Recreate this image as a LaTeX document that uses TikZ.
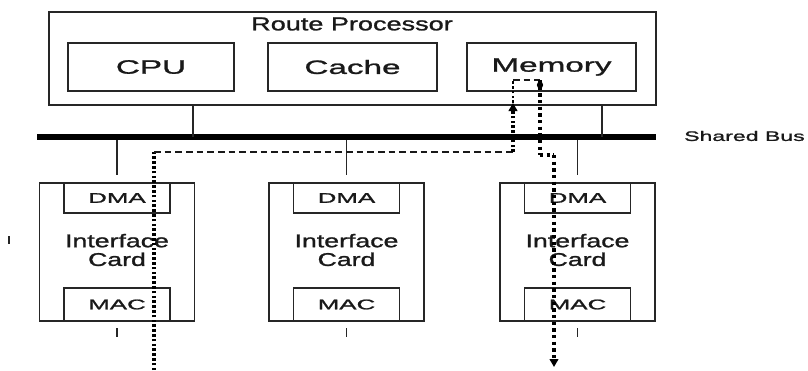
\documentclass[tikz,border=0pt]{standalone}
\usepackage{fontspec}
\setmainfont{Liberation Sans}
\newfontfamily\lblwide[FakeStretch=1.72, FakeBold=1.3]{Liberation Sans}
\newfontfamily\lblmid[FakeStretch=1.45, FakeBold=1.3]{Liberation Sans}
\newfontfamily\lblsmall[FakeStretch=1.85, FakeBold=1.5]{Liberation Sans}
\newfontfamily\lblbus[FakeStretch=1.68, FakeBold=1.3]{Liberation Sans}
\usetikzlibrary{arrows.meta}
\begin{document}
\begin{tikzpicture}[x=0.75pt,y=-0.75pt,
  box/.style={draw=black!85, line width=1.1pt, inner sep=0pt, text=black!90},
  conn/.style={draw=black!85, line width=1.1pt},
  busline/.style={draw=black, line width=3.8pt},
  vdot/.style={draw=black, line width=2.6pt, dash pattern=on 1.9pt off 1.7pt},
  vdotb/.style={draw=black, line width=2.6pt, dash pattern=on 2.4pt off 2.6pt},
  hdash/.style={draw=black!90, line width=2pt, dash pattern=on 5pt off 3pt},
  boxlabel/.style={font=\lblwide\fontsize{14.5}{16}\selectfont},
  titlelabel/.style={font=\lblmid\fontsize{14}{15}\selectfont},
  cardlabel/.style={font=\lblmid\fontsize{13.8}{15}\selectfont, align=center, text=black!90},
  smalllabel/.style={font=\lblsmall\fontsize{10.5}{12}\selectfont},
  buslabel/.style={font=\lblbus\fontsize{10.3}{12}\selectfont},
  tip/.style={-{Triangle[length=6pt,width=6.5pt]}}]
\useasboundingbox (0,0) rectangle (808,371);

% Route processor
\node[box, minimum width=455.25pt, minimum height=69.75pt] (rp) at (352.5,58.5) {};
\node[titlelabel, text=black!90] (rptitle) at (352,24) {Route Processor};
\node[box, boxlabel, minimum width=124.5pt, minimum height=36pt] (cpu) at (151,67) {CPU};
\node[box, boxlabel, minimum width=126.75pt, minimum height=36pt] (cache) at (352.5,67) {Cache};
\node[box, boxlabel, minimum width=126.75pt, minimum height=36pt] (mem) at (551.5,67) {Memory};

% shared bus
\coordinate (busL) at (37,137);
\coordinate (busR) at (656,137);
\draw[busline] (busL) -- (busR);
\node[buslabel, anchor=east, inner sep=0pt, text=black!90] (buslbl) at (805,136) {Shared Bus};

\coordinate (j1) at (193,137);
\coordinate (j2) at (602,137);
\draw[conn] (rp.south -| j1) -- (j1);
\draw[conn] (rp.south -| j2) -- (j2);

% interface cards
\foreach \n/\cx in {1/117, 2/346.5, 3/577.5}{
  \node[box, minimum width=116.25pt, minimum height=103.5pt] (card\n) at (\cx,252) {};
  \node[box, smalllabel, minimum width=79.5pt, minimum height=22.5pt] (dma\n) at (\cx,198) {DMA};
  \node[box, smalllabel, minimum width=79.5pt, minimum height=24.75pt] (mac\n) at (\cx,304.5) {MAC};
  \node[cardlabel] (lbl\n) at (\cx,250) {Interface\\[-1pt]Card};
  \coordinate (up\n) at (\cx,140);
  \coordinate (upe\n) at (\cx,175);
  \draw[conn] (up\n) -- (upe\n);
  \coordinate (dn\n) at (\cx,328);
  \coordinate (dne\n) at (\cx,337);
  \draw[conn, line width=1pt] (dn\n) -- (dne\n);
}

% small mark at left
\coordinate (mk1) at (9,236);
\coordinate (mk2) at (9,244);
\draw[conn, line width=1pt] (mk1) -- (mk2);

% packet path
\coordinate (a0) at (154,375);
\coordinate (a1) at (154,152);
\coordinate (a2) at (513,152);
\coordinate (a3) at (513,103);
\coordinate (a4) at (513,80);
\coordinate (a5) at (540,80);
\coordinate (b1) at (540,155);
\coordinate (b2) at (554,155);
\coordinate (b3) at (554,367);
\draw[vdot] (a0) -- (a1);
\draw[hdash] (a1) -- (a2);
\draw[vdot, tip] (a2) -- (a3);
\draw[vdot, line width=1.8pt] (a3) -- (a4);
\draw[hdash, line width=1.6pt] (a4) -- (a5);
\draw[vdotb] (a5) -- (b1);
\draw[vdotb] (b1) -- (b2);
\draw[vdotb, tip] (b2) -- (b3);
\fill[black] (540,85) circle (3.2);
\end{tikzpicture}
\end{document}
